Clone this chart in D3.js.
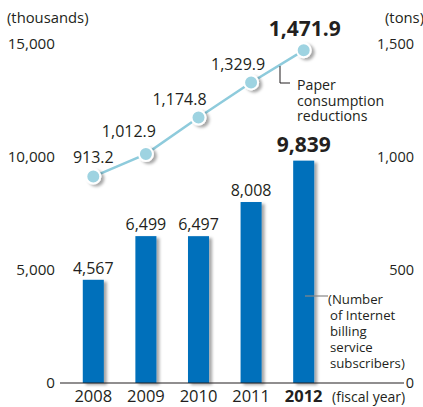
<!DOCTYPE html>
<html><head><meta charset="utf-8">
<script src="https://cdn.jsdelivr.net/npm/d3@7"></script>
<style>body{margin:0;background:#fff}svg{display:block}text{font-family:"Open Sans","Noto Sans",sans-serif;fill:#231f20}</style>
</head><body><svg id="c" width="423" height="407"></svg>
<script>
const years = ["2008","2009","2010","2011","2012"];
const subscribers = [4567, 6499, 6497, 8008, 9839];
const subscriberLabels = ["4,567","6,499","6,497","8,008","9,839"];
const paper = [913.2, 1012.9, 1174.8, 1329.9, 1471.9];
const paperLabels = ["913.2","1,012.9","1,174.8","1,329.9","1,471.9"];
const leftTicks = [0, 5000, 10000, 15000];
const rightTicks = [0, 500, 1000, 1500];

const svg = d3.select("#c");
const defs = svg.append("defs");
const f = defs.append("filter").attr("id","sh").attr("x","-50%").attr("y","-50%").attr("width","200%").attr("height","200%");
f.append("feDropShadow").attr("dx",3).attr("dy",2).attr("stdDeviation",1.8).attr("flood-color","#000").attr("flood-opacity",0.35);

const x = d3.scaleBand().domain(years).range([67, 330]).paddingInner(0.6).paddingOuter(0.3);
const yL = d3.scaleLinear().domain([0, 15000]).range([383, 44]);
const yR = d3.scaleLinear().domain([0, 1500]).range([383, 44]);
const cx = d => x(d) + x.bandwidth()/2;

// axis labels
svg.append("text").attr("x",7).attr("y",23).attr("font-size",14.8).text("(thousands)");
svg.selectAll(".lt").data(leftTicks).join("text")
  .attr("x",55).attr("y",d=>yL(d)+5).attr("text-anchor","end").attr("font-size",15.2)
  .text(d=>d3.format(",")(d));
svg.append("text").attr("x",385).attr("y",23).attr("font-size",14.8).text("(tons)");
svg.selectAll(".rt").data(rightTicks).join("text")
  .attr("x",414).attr("y",d=>yR(d)+5).attr("text-anchor","end").attr("font-size",14.5)
  .text(d=>d3.format(",")(d));

// bars
svg.selectAll(".bar").data(years).join("rect")
  .attr("x",d=>x(d)).attr("width",x.bandwidth())
  .attr("y",(d,i)=>yL(subscribers[i])).attr("height",(d,i)=>yL(0)-yL(subscribers[i]))
  .attr("fill","#0070bb").attr("filter","url(#sh)");

// baseline
svg.append("line").attr("x1",60).attr("x2",404).attr("y1",383).attr("y2",383).attr("stroke","#231f20").attr("stroke-width",1.2);

// bar value labels
svg.selectAll(".bl").data(years).join("text")
  .attr("x",d=>cx(d)).attr("y",(d,i)=>yL(subscribers[i])-(i===4?9:6))
  .attr("text-anchor","middle")
  .attr("font-size",(d,i)=>i===4?21:16).attr("font-weight",(d,i)=>i===4?"bold":"normal")
  .text((d,i)=>subscriberLabels[i]);

// year labels
svg.selectAll(".yl").data(years).join("text")
  .attr("x",d=>cx(d)).attr("y",402).attr("text-anchor","middle")
  .attr("font-size",16.5).attr("font-weight",(d,i)=>i===4?"bold":"normal").text(d=>d);
svg.append("text").attr("x",332).attr("y",402).attr("font-size",14).text("(fiscal year)");

// line
const line = d3.line().x((d,i)=>cx(years[i])).y(d=>yR(d));
svg.append("path").datum(paper).attr("d",line).attr("fill","none").attr("stroke","#8ecbdc").attr("stroke-width",2.5);
svg.selectAll(".pt").data(paper).join("circle")
  .attr("cx",(d,i)=>cx(years[i])).attr("cy",d=>yR(d)).attr("r",7)
  .attr("fill","#9ed3e1").attr("stroke","#fff").attr("stroke-width",2).attr("filter","url(#sh)");

const ldx = [0, -17, -19, -13, 1];
const ldy = [-14, -17, -12, -12, -14];
svg.selectAll(".pl").data(paper).join("text")
  .attr("x",(d,i)=>cx(years[i])+ldx[i]).attr("y",(d,i)=>yR(d)+ldy[i])
  .attr("text-anchor","middle")
  .attr("font-size",(d,i)=>i===4?21:16).attr("font-weight",(d,i)=>i===4?"bold":"normal")
  .text((d,i)=>paperLabels[i]);

// annotations
svg.append("path").attr("d","M280,66V83H290").attr("fill","none").attr("stroke","#231f20").attr("stroke-width",1);
const pa = svg.append("text").attr("x",297).attr("font-size",14.2);
["Paper","consumption","reductions"].forEach((t,i)=>pa.append("tspan").attr("x",297).attr("y",90+i*15.5).text(t));

svg.append("line").attr("x1",305).attr("x2",328).attr("y1",296).attr("y2",296).attr("stroke","#888").attr("stroke-width",1.2);
const na = svg.append("text").attr("font-size",13.2);
["(Number","of Internet","billing","service","subscribers)"].forEach((t,i)=>na.append("tspan").attr("x",i===0?328:330).attr("y",304+i*16).text(t));
</script></body></html>
